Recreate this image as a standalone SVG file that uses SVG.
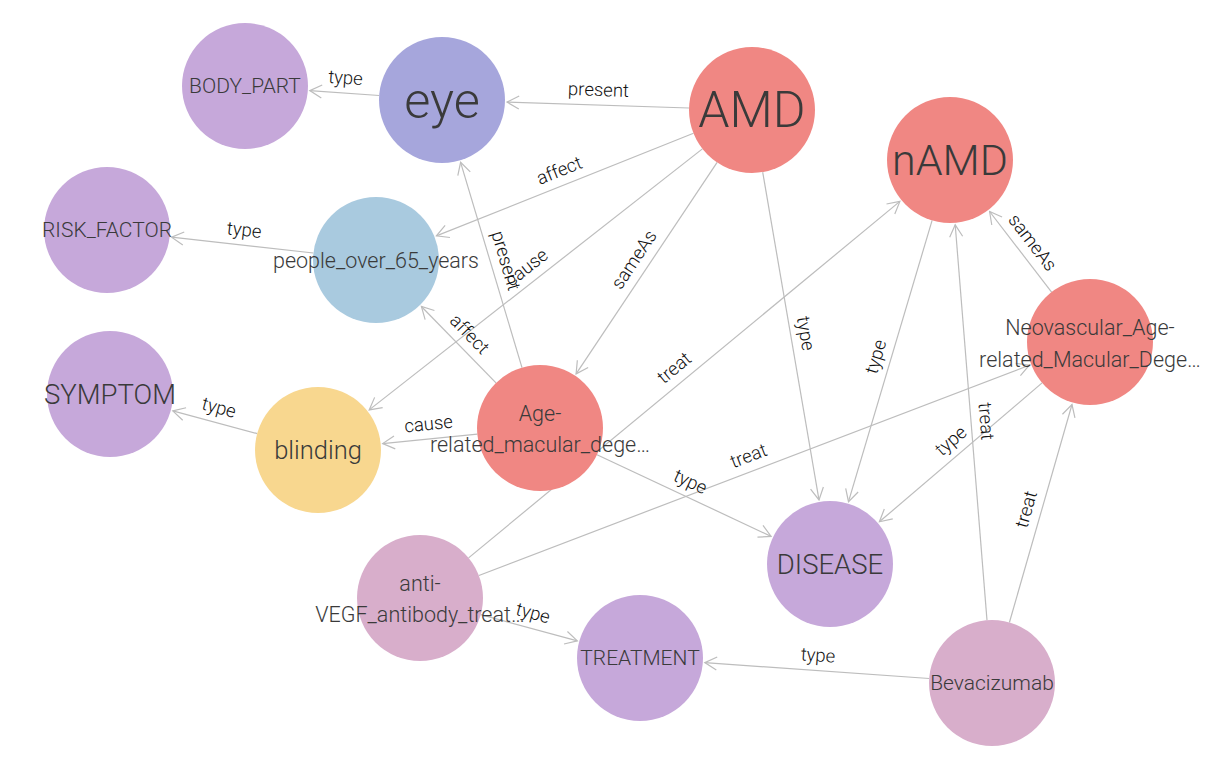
<svg xmlns="http://www.w3.org/2000/svg" width="1214" height="758" viewBox="0 0 1214 758">
<style>
.edge{stroke:#bdbdbd;stroke-width:1.2;fill:none;marker-end:url(#arr)}
.el{font-family:Roboto,"Liberation Sans",sans-serif;font-weight:300;font-size:18.5px;fill:#111;text-anchor:middle}
.nl{font-family:Roboto,"Liberation Sans",sans-serif;font-weight:300;fill:#3a3a3a;text-anchor:middle}
.salmon{fill:#f08783}
.lav{fill:#c6a8da}
.peri{fill:#a6a6dc}
.blue{fill:#a9cadf}
.yel{fill:#f8d78f}
.lilac{fill:#d8aecb}
</style>
<defs>
<marker id="arr" markerUnits="userSpaceOnUse" markerWidth="20" markerHeight="20" refX="0" refY="0" viewBox="-14 -10 16 20" orient="auto">
<path d="M-12,-6.5 L0,0 L-12,6.5" fill="none" stroke="#bdbdbd" stroke-width="1.2"/>
</marker>
</defs>
<rect width="1214" height="758" fill="#ffffff"/>
<g id="connectors">
<line class="edge" x1="379.2" y1="95.5" x2="309.8" y2="90.6"/>
<line class="edge" x1="689" y1="108" x2="507" y2="102.1"/>
<line class="edge" x1="693.5" y1="133.3" x2="436.4" y2="235.9"/>
<line class="edge" x1="702.4" y1="148.9" x2="369.2" y2="409.9"/>
<line class="edge" x1="717.1" y1="162.4" x2="576.1" y2="373.9"/>
<line class="edge" x1="762.7" y1="172.1" x2="819" y2="499.9"/>
<line class="edge" x1="313.4" y1="253" x2="171.6" y2="237.2"/>
<line class="edge" x1="257.2" y1="433.6" x2="172.8" y2="410.9"/>
<line class="edge" x1="522" y1="367.6" x2="460.6" y2="162.3"/>
<line class="edge" x1="496" y1="382.9" x2="421.4" y2="306.5"/>
<line class="edge" x1="477.3" y1="434.2" x2="382.7" y2="443.6"/>
<line class="edge" x1="597" y1="454.7" x2="771.1" y2="536.4"/>
<line class="edge" x1="468.6" y1="557.9" x2="899.9" y2="201.4"/>
<line class="edge" x1="478.9" y1="575.5" x2="1029.3" y2="365.2"/>
<line class="edge" x1="480.8" y1="614.6" x2="577.3" y2="640.9"/>
<line class="edge" x1="932.1" y1="220.4" x2="848.5" y2="501.7"/>
<line class="edge" x1="1051.6" y1="292.1" x2="989.6" y2="211.5"/>
<line class="edge" x1="1042.1" y1="382.9" x2="879.4" y2="521.8"/>
<line class="edge" x1="987" y1="620.2" x2="955.2" y2="224.8"/>
<line class="edge" x1="1009.4" y1="622.5" x2="1072" y2="404.5"/>
<line class="edge" x1="929.2" y1="678.5" x2="704.8" y2="662.6"/>
<g id="edge-labels">
<text class="el" transform="translate(344.5,93) rotate(4.06)" y="-9">type</text>
<text class="el" transform="translate(598,105) rotate(1.85)" y="-9">present</text>
<text class="el" transform="translate(565,184.6) rotate(-21.75)" y="-9">affect</text>
<text class="el" transform="translate(535.8,279.4) rotate(-38.08)" y="-9">cause</text>
<text class="el" transform="translate(646.6,268) rotate(-56.3)" y="-9">sameAs</text>
<text class="el" transform="translate(790.8,336) rotate(80.25)" y="-9">type</text>
<text class="el" transform="translate(242.5,245) rotate(6.36)" y="-9">type</text>
<text class="el" transform="translate(215,422.3) rotate(15.07)" y="-9">type</text>
<text class="el" transform="translate(491.3,265) rotate(73.4)" y="-9">present</text>
<text class="el" transform="translate(458.7,344.7) rotate(45.7)" y="-9">affect</text>
<text class="el" transform="translate(430,439) rotate(-5.66)" y="-9">cause</text>
<text class="el" transform="translate(684,495.5) rotate(25.1)" y="-9">type</text>
<text class="el" transform="translate(684,379.6) rotate(-39.6)" y="-9">treat</text>
<text class="el" transform="translate(754,470) rotate(-20.9)" y="-9">treat</text>
<text class="el" transform="translate(529,627.7) rotate(15.26)" y="-9">type</text>
<text class="el" transform="translate(890.3,361) rotate(-73.46)" y="-9">type</text>
<text class="el" transform="translate(1020.6,251.8) rotate(52.4)" y="-9">sameAs</text>
<text class="el" transform="translate(960.7,452.3) rotate(-40.5)" y="-9">type</text>
<text class="el" transform="translate(971,422.5) rotate(85.4)" y="-9">treat</text>
<text class="el" transform="translate(1040.7,513.5) rotate(-74)" y="-9">treat</text>
<text class="el" transform="translate(817,670.5) rotate(4.06)" y="-9">type</text>
</g>
</g>
<g id="node-BODY_PART"><circle class="lav" cx="245" cy="86" r="63"/><text class="nl" x="245" y="86" font-size="21" dominant-baseline="central">BODY_PART</text></g>
<g id="node-eye"><circle class="peri" cx="442" cy="100" r="63"/><text class="nl" x="442" y="100" font-size="50.5" dominant-baseline="central">eye</text></g>
<g id="node-AMD"><circle class="salmon" cx="752" cy="110" r="63"/><text class="nl" x="752" y="110" font-size="50" dominant-baseline="central">AMD</text></g>
<g id="node-nAMD"><circle class="salmon" cx="950" cy="160" r="63"/><text class="nl" x="950" y="160" font-size="43" dominant-baseline="central">nAMD</text></g>
<g id="node-RISK_FACTOR"><circle class="lav" cx="107" cy="230" r="63"/><text class="nl" x="107" y="230" font-size="21" dominant-baseline="central">RISK_FACTOR</text></g>
<g id="node-people_over_65_years"><circle class="blue" cx="376" cy="260" r="63"/><text class="nl" x="376" y="260" font-size="21.5" dominant-baseline="central">people_over_65_years</text></g>
<g id="node-Neovascular"><circle class="salmon" cx="1090" cy="342" r="63"/><text class="nl" font-size="21.5"><tspan x="1090" y="335">Neovascular_Age-</tspan><tspan x="1090" y="367">related_Macular_Dege…</tspan></text></g>
<g id="node-SYMPTOM"><circle class="lav" cx="110" cy="394" r="63"/><text class="nl" x="110" y="394" font-size="27.5" dominant-baseline="central">SYMPTOM</text></g>
<g id="node-blinding"><circle class="yel" cx="318" cy="450" r="63"/><text class="nl" x="318" y="450" font-size="25.5" dominant-baseline="central">blinding</text></g>
<g id="node-Age-related"><circle class="salmon" cx="540" cy="428" r="63"/><text class="nl" font-size="21.5"><tspan x="540" y="421">Age-</tspan><tspan x="540" y="452">related_macular_dege…</tspan></text></g>
<g id="node-DISEASE"><circle class="lav" cx="830" cy="564" r="63"/><text class="nl" x="830" y="564" font-size="27.5" dominant-baseline="central">DISEASE</text></g>
<g id="node-anti-VEGF"><circle class="lilac" cx="420" cy="598" r="63"/><text class="nl" font-size="21.5"><tspan x="420" y="591">anti-</tspan><tspan x="420" y="622">VEGF_antibody_treat…</tspan></text></g>
<g id="node-TREATMENT"><circle class="lav" cx="640" cy="658" r="63"/><text class="nl" x="640" y="658" font-size="21" dominant-baseline="central">TREATMENT</text></g>
<g id="node-Bevacizumab"><circle class="lilac" cx="992" cy="683" r="63"/><text class="nl" x="992" y="683" font-size="21" dominant-baseline="central">Bevacizumab</text></g>
</svg>
